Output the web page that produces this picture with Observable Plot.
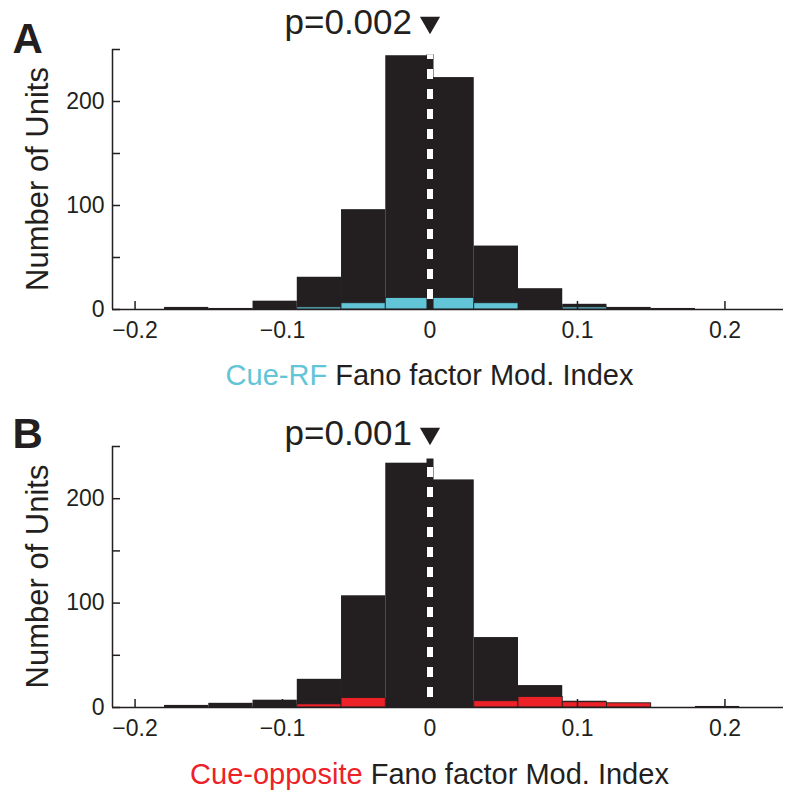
<!DOCTYPE html>
<html>
<head>
<meta charset="utf-8">
<script src="https://cdn.jsdelivr.net/npm/d3@7"></script>
<script src="https://cdn.jsdelivr.net/npm/@observablehq/plot@0.6"></script>
<style>
  body { margin: 0; background: #fff; }
  #chart svg { display: block; }
</style>
</head>
<body>
<div id="chart"></div>
<script>
// ---- data ----
const binEdges = [-0.18, -0.15, -0.12, -0.09, -0.06, -0.03, 0, 0.03, 0.06, 0.09, 0.12, 0.15, 0.18, 0.21];
const allUnitsA = [2, 1, 8, 31, 96, 244, 223, 61, 20, 5, 2, 1, 0];
const cueRFUnits = [0, 0, 0, 2, 6, 11, 11, 6, 0, 2, 0, 0, 0];
const allUnitsB = [2, 4, 7, 27, 107, 234, 218, 67, 21, 6, 4, 0, 1];
const cueOppUnits = [0, 0, 0, 3, 9, 0, 0, 6, 10, 5, 4, 0, 0];
const xTicks = [-0.2, -0.1, 0, 0.1, 0.2];
const yTickLabels = [0, 100, 200];
const yTicksAll = [0, 50, 100, 150, 200, 250];
const xDomain = [-0.2153, 0.2397];
const yDomain = [0, 250];
const medianLineTop = [245, 238];
const pValues = ["p=0.002", "p=0.001"];
const panelLetters = ["A", "B"];
const subsetNames = ["Cue-RF", "Cue-opposite"];
const subsetColors = ["#62c5d7", "#ed2128"];
const xLabelRest = " Fano factor Mod. Index";
const yLabel = "Number of Units";

const INK = "#231f20";
const FONT = "'Liberation Sans', Arial, Helvetica, sans-serif";
const fmtX = d => d === 0 ? "0" : d3.format(".1f")(d).replace("-", "\u2013");

function panel(i, all, sub, cfg) {
  const rows = all.map((v, k) => ({x1: binEdges[k], x2: binEdges[k + 1], all: v, sub: sub[k]}));
  const svg = Plot.plot({
    width: 800,
    height: cfg.height,
    marginTop: cfg.marginTop,
    marginBottom: cfg.marginBottom,
    marginLeft: 112,
    marginRight: 17,
    x: {domain: xDomain},
    y: {domain: yDomain},
    style: {fontFamily: FONT, background: "white", color: INK, overflow: "visible"},
    marks: [
      Plot.rectY(rows.filter(d => d.all > 0), {x1: "x1", x2: "x2", y: "all", fill: INK}),
      Plot.rectY(rows.filter(d => d.sub > 0), {x1: "x1", x2: "x2", y: "sub", fill: subsetColors[i], stroke: INK, strokeWidth: 0.8}),
      Plot.ruleX([0], {y1: 0, y2: medianLineTop[i], stroke: INK, strokeWidth: 7}),
      Plot.ruleX([0], {y1: 0, y2: medianLineTop[i], stroke: "white", strokeWidth: 6, strokeDasharray: "10,10", strokeDashoffset: 10}),
      Plot.ruleY([0], {stroke: INK, strokeWidth: 1.5}),
      Plot.ruleX([xDomain[0]], {stroke: INK, strokeWidth: 1.5}),
      Plot.axisX(xTicks, {tickSize: -8, tickFormat: () => "", label: null, stroke: INK, strokeWidth: 1.5}),
      Plot.axisX(xTicks, {tickSize: 0, tickPadding: 12, fontSize: 23, label: null, fill: INK, tickFormat: fmtX}),
      Plot.axisY(yTicksAll, {tickSize: -8, tickFormat: () => "", label: null, stroke: INK, strokeWidth: 1.5}),
      Plot.axisY(yTickLabels, {tickSize: 0, tickPadding: 8, fontSize: 23, label: null, fill: INK}),
      Plot.text([pValues[i]], {text: d => d, x: 0, frameAnchor: "top", dx: -18, dy: cfg.pDy, textAnchor: "end", lineAnchor: "middle", fontSize: 35, fill: INK}),
      Plot.dot([0], {x: d => d, frameAnchor: "top", dy: cfg.pDy, symbol: "triangle", rotate: 180, r: 7.5, fill: INK, stroke: null}),
      Plot.text([panelLetters[i]], {text: d => d, frameAnchor: "top-left", dx: -100, dy: cfg.letterDy, textAnchor: "start", lineAnchor: "middle", fontSize: 42, fontWeight: "bold", fill: INK})
    ]
  });
  const x = svg.scale("x");
  const y = svg.scale("y");
  const t = d3.select(svg).append("text")
    .attr("x", x.apply(0))
    .attr("y", cfg.xLabelY)
    .attr("text-anchor", "middle")
    .attr("font-family", FONT)
    .attr("font-size", 29)
    .attr("fill", INK);
  t.append("tspan").attr("fill", subsetColors[i]).text(subsetNames[i]);
  t.append("tspan").text(xLabelRest);
  const midY = (y.apply(yDomain[0]) + y.apply(yDomain[1])) / 2;
  d3.select(svg).append("text")
    .attr("transform", `translate(48,${midY}) rotate(-90)`)
    .attr("text-anchor", "middle")
    .attr("font-family", FONT)
    .attr("font-size", 31)
    .attr("fill", INK)
    .text(yLabel);
  return svg;
}

const chart = document.getElementById("chart");
chart.appendChild(panel(0, allUnitsA, cueRFUnits, {height: 400, marginTop: 49, marginBottom: 91, pDy: -27, letterDy: -10, xLabelY: 385}));
chart.appendChild(panel(1, allUnitsB, cueOppUnits, {height: 404, marginTop: 46, marginBottom: 97, pDy: -13, letterDy: -12, xLabelY: 384}));
</script>
</body>
</html>
